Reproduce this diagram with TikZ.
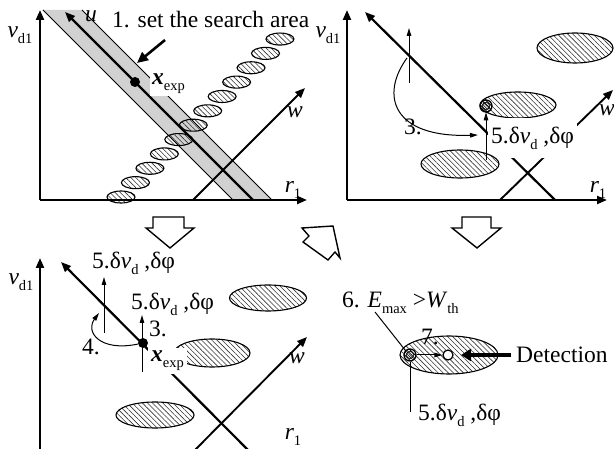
\documentclass[tikz,border=0pt]{standalone}
\usepackage{fontspec}
\setmainfont{Liberation Serif}
\usetikzlibrary{arrows.meta,patterns,patterns.meta,shapes.geometric}
\newcommand{\sbs}[1]{\raisebox{-0.25em}{\fontsize{14.5}{15}\selectfont #1}}
\newcommand{\dvd}{5.δ\textit{v}\sbs{d} ,δφ}
\newcommand{\vdone}{\textit{v}\sbs{d1}}
\newcommand{\rone}{\textit{r}\sbs{1}}
\newcommand{\xexp}{\textbf{\textit{x}}\sbs{exp}}
\tikzset{
  axis/.style={line width=2.2pt,-{Triangle[length=10pt,width=8pt]}},
  thinarrow/.style={line width=1pt,-{Triangle[length=8pt,width=4.5pt]}},
  hatched/.style={ellipse,draw,line width=1.1pt,pattern={Lines[angle=-45,distance=3.6pt,line width=0.6pt]},pattern color=black!80,inner sep=0pt},
  lbl/.style={inner sep=1pt,font=\fontsize{23.5}{26}\selectfont},
  blockarrow/.style={draw,line width=1.4pt,fill=white,line join=miter},
  smallc/.style={circle,draw,line width=1.3pt,pattern={Lines[angle=-45,distance=2.5pt,line width=0.6pt]},inner sep=0pt,minimum size=12pt},
  dotc/.style={circle,fill=black,inner sep=0pt,minimum size=10pt},
}
\begin{document}
\begin{tikzpicture}[x=1pt,y=-1pt]
\useasboundingbox (0,0) rectangle (614,449);
% ================= panel 1 =================
\coordinate (b1a) at (43,10);
\coordinate (b1b) at (82,10);
\coordinate (b1c) at (272,200);
\coordinate (b1d) at (233,200);
\fill[black!18] (b1a) -- (b1b) -- (b1c) -- (b1d) -- cycle;
\draw[line width=0.8pt] (b1a) -- (b1d);
\draw[line width=0.8pt] (b1b) -- (b1c);
\foreach \i in {0,...,11}{
  \node[hatched,minimum width=28pt,minimum height=12pt] (e1-\i) at ({121+14.45*\i},{197-14.36*\i}) {};
}
\coordinate (o1) at (40,200);
\coordinate (y1) at (40,10);
\coordinate (x1) at (307,200);
\draw[axis] (o1) -- (y1);
\draw[axis] (o1) -- (x1);
\coordinate (u1s) at (253,200);
\coordinate (u1e) at (65,12);
\draw[axis] (u1s) -- (u1e);
\coordinate (w1s) at (193,200);
\coordinate (w1e) at (305,88);
\draw[axis,line width=1.9pt] (w1s) -- (w1e);
\node[dotc] (xe1) at (135,82) {};
\node[lbl,fill=white,anchor=west,inner sep=2pt] (xl1) at (150,84) {\xexp};
\node[lbl] (vl1) at (20,35) {\vdone};
\node[lbl] (rl1) at (293,190) {\rone};
\node[lbl] (wl1) at (295,112) {\textit{w}};
\node[lbl] (ul1) at (91,16) {\textit{u}};
\node[lbl,anchor=west] (t1) at (111,20) {1. set the search area};
\coordinate (a1s) at (165,40);
\coordinate (a1e) at (137,63);
\draw[line width=2.6pt,-{Triangle[length=11pt,width=10pt]}] (a1s) -- (a1e);
% ================= panel 2 =================
\node[hatched,minimum width=76pt,minimum height=30pt] (eA) at (575,48) {};
\node[hatched,minimum width=76pt,minimum height=26pt] (eB) at (518,105) {};
\coordinate (o2) at (347,200);
\coordinate (y2) at (347,10);
\coordinate (x2) at (607,200);
\draw[axis] (o2) -- (y2);
\draw[axis] (o2) -- (x2);
\coordinate (u2s) at (555,200);
\coordinate (u2e) at (365,12);
\draw[axis] (u2s) -- (u2e);
\coordinate (w2s) at (500,200);
\coordinate (w2e) at (613,90);
\draw[axis,line width=1.9pt] (w2s) -- (w2e);
\node[lbl,fill=white,anchor=west,inner xsep=3pt,inner ysep=9pt] (d2) at (488,138) {\dvd};
\node[hatched,minimum width=78pt,minimum height=28pt] (eC) at (460,164) {};
\node[lbl] (vl2) at (328,35) {\vdone};
\node[lbl] (rl2) at (598,190) {\rone};
\node[lbl] (wl2) at (607,110) {\textit{w}};
\node[smallc] (c2) at (486,106) {};
\node[circle,draw,line width=0.7pt,inner sep=0pt,minimum size=7pt] at (c2) {};
\coordinate (v2s) at (486,160);
\draw[thinarrow] (v2s) -- (c2.south);
\coordinate (v2bs) at (409,83);
\coordinate (v2be) at (409,28);
\draw[thinarrow] (v2bs) -- (v2be);
\coordinate (cv2s) at (407,58);
\coordinate (cv2e) at (478,135);
\draw[thinarrow] (cv2s) .. controls (380,95) and (392,138) .. (cv2e);
\node[lbl] (n3a) at (413,127) {3.};
% ================= panel 3 =================
\node[hatched,minimum width=77pt,minimum height=26pt] (eD) at (268,298) {};
\node[hatched,minimum width=76pt,minimum height=28pt] (eE) at (212,353) {};
\node[hatched,minimum width=78pt,minimum height=26pt] (eF) at (155,415) {};
\coordinate (o3) at (40,452);
\coordinate (y3) at (40,258);
\draw[axis] (o3) -- (y3);
\coordinate (u3s) at (250,452);
\coordinate (u3e) at (61,262);
\draw[axis] (u3s) -- (u3e);
\coordinate (w3s) at (193,452);
\coordinate (w3e) at (307,337);
\draw[axis,line width=1.9pt] (w3s) -- (w3e);
\node[lbl,fill=white,anchor=west,inner sep=3pt] (xl3) at (148,361) {\xexp};
\node[dotc] (xe3) at (143,343) {};
\coordinate (v3as) at (104,333);
\coordinate (v3ae) at (104,277);
\draw[thinarrow] (v3as) -- (v3ae);
\coordinate (v3bs) at (142,372);
\coordinate (v3be) at (142,315);
\draw[thinarrow] (v3bs) -- (v3be);
\coordinate (cv3e) at (99,313);
\draw[thinarrow] (xe3) .. controls (100,352) and (85,332) .. (cv3e);
\node[lbl,anchor=west] (d3a) at (91,263) {\dvd};
\node[lbl,anchor=west] (d3b) at (130,304) {\dvd};
\node[lbl] (n3b) at (158,329) {3.};
\node[lbl] (n4) at (91,347) {4.};
\node[lbl] (vl3) at (21,282) {\vdone};
\node[lbl] (rl3) at (293,437) {\rone};
\node[lbl] (wl3) at (297,358) {\textit{w}};
% ================= panel 4 =================
\node[hatched,minimum width=98pt,minimum height=38pt] (eG) at (449,355) {};
\node[smallc] (c4) at (410,355) {};
\node[circle,draw,line width=0.7pt,inner sep=0pt,minimum size=7pt] at (c4) {};
\node[circle,draw,fill=white,line width=1.2pt,inner sep=0pt,minimum size=10pt] (h4) at (448,355) {};
\draw[thinarrow] (c4) -- (h4);
\node[lbl] (n7) at (430,337) {7.};
\node[lbl,anchor=west] (det) at (515,355) {Detection};
\coordinate (dets) at (511,355);
\coordinate (dete) at (461,355);
\draw[line width=3.5pt,-{Triangle[length=10pt,width=12pt]}] (dets) -- (dete);
\node[lbl,anchor=west] (six) at (341,303) {6. \textit{E}\sbs{max} >\textit{W}\sbs{th}};
\coordinate (l6) at (375,312);
\draw[line width=1pt] (l6) -- (c4.north west);
\coordinate (l5) at (410,412);
\draw[line width=1pt] (c4.south) -- (l5);
\node[lbl,anchor=west] (d4) at (417,415) {\dvd};
% ================= block arrows =================
\draw[blockarrow] (153,217) -- (184,217) -- (184,228) -- (194,228) -- (170,248) -- (146,228) -- (153,228) -- cycle;
\draw[blockarrow] (462,217) -- (491,217) -- (491,228) -- (501,228) -- (477,248) -- (452,228) -- (462,228) -- cycle;
\draw[blockarrow] (333,226) -- (302,228) -- (309,236) -- (303,242) -- (328,260) -- (335,252) -- (340,258) -- cycle;
\end{tikzpicture}
\end{document}
